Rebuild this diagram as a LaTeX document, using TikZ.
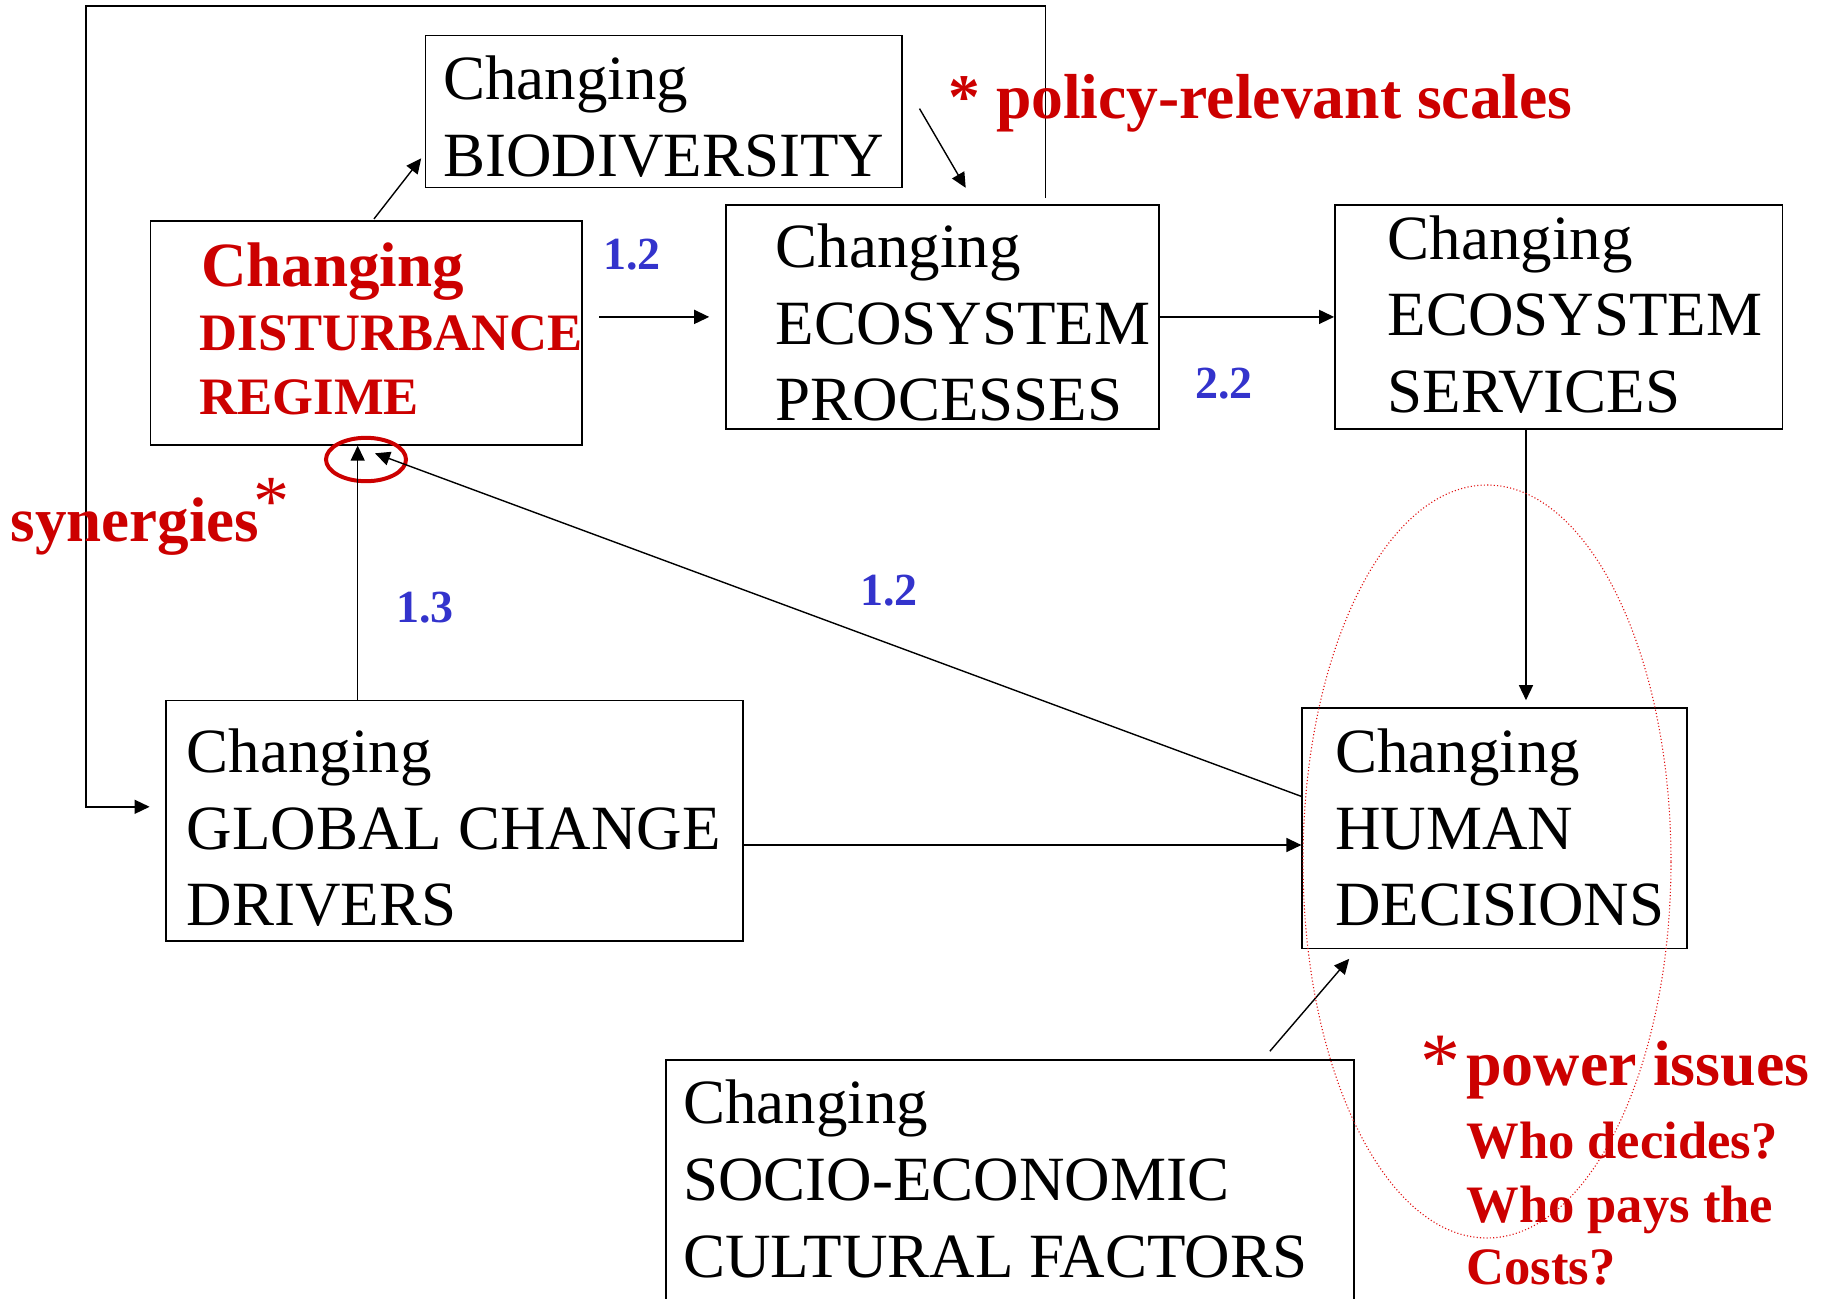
\documentclass[tikz,border=0pt]{standalone}
\usepackage{fontspec}
\setmainfont{Liberation Serif}
\usetikzlibrary{arrows.meta,calc,shapes.geometric}
\definecolor{dred}{HTML}{CC0000}
\definecolor{dblue}{HTML}{3333CC}
\definecolor{dotred}{HTML}{E01010}
\begin{document}
\begin{tikzpicture}[x=0.5pt,y=-0.5pt,
  box/.style={draw, line width=0.8pt, rectangle, inner sep=0pt},
  txt/.style={anchor=base west, inner sep=0pt, font=\fontsize{31.5}{38}\selectfont},
  rtxt/.style={anchor=base west, inner sep=0pt, text=dred, font=\fontsize{31.5}{38}\selectfont\bfseries},
  rsmall/.style={anchor=base west, inner sep=0pt, text=dred, font=\fontsize{26.3}{32}\selectfont\bfseries},
  num/.style={anchor=base west, inner sep=0pt, text=dblue, font=\fontsize{23}{28}\selectfont\bfseries},
  star/.style={anchor=base, inner sep=0pt, text=dred},
  arr/.style={line width=0.7pt, -{Triangle[length=7.5pt,width=7pt]}}]
\useasboundingbox (0,0) rectangle (1828,1298);
\clip (0,0) rectangle (1828,1298);

% boxes
\node[box, minimum width=238.25pt, minimum height=75.9pt] (bio) at (663.75,111.5) {};
\node[box, minimum width=215.65pt, minimum height=111.9pt] (dist) at (366.05,332.9) {};
\node[box, minimum width=216.55pt, minimum height=112.1pt] (proc) at (942.25,316.9) {};
\node[box, minimum width=223.8pt, minimum height=112.1pt] (serv) at (1558.7,316.9) {};
\node[box, minimum width=288.5pt, minimum height=120.2pt] (glob) at (454.5,820.8) {};
\node[box, minimum width=192.4pt, minimum height=120.25pt] (hum) at (1494.6,828.25) {};
\node[box, minimum width=344.15pt, minimum height=170pt] (socio) at (1009.85,1230) {};

% red circle
\node[ellipse, draw=dred, line width=2pt, minimum width=40pt, minimum height=21.7pt, inner sep=0pt] (syn) at (366,459.5) {};

% connectors
\draw[arr] ($(dist.north west)+(224.4,-1.3)$) -- ($(bio.south west)+(-3.5,-29.9)$);
\draw[arr] ($(bio.east)+(16.7,-2.9)$) -- ($(proc.north west)+(240.8,-16.2)$);
\draw[arr] ($(dist.east |- proc.west)+(16.9,0)$) -- ($(proc.west)+(-15.7,0)$);
\draw[arr] (proc.east) -- (serv.west);
\coordinate (sv) at ($(serv.south)+(-32.7,0)$);
\draw[arr, shorten >=3.5pt] (sv) -- (sv |- hum.north);
\coordinate (g1) at ($(glob.east)+(0,24.2)$);
\draw[arr] (g1) -- (g1 -| hum.west);
\coordinate (g2) at ($(glob.north west)+(192.5,0)$);
\draw[arr] (g2) -- (g2 |- dist.south);
\draw[arr] ($(hum.west)+(0,-31.85)$) -- ($(syn.center)+(9,-6.2)$);
\draw[arr] ($(socio.north west)+(605,-8)$) -- ($(hum.south west)+(47.8,9.5)$);
\coordinate (f0) at ($(proc.north west)+(320.6,-5.8)$);
\coordinate (fc) at (86,5.8);
\coordinate (f3) at ($(glob.west)+(-15.6,-14)$);
\draw[arr] (f0) |- (fc) |- (f3);

% box texts
\node[txt] (bio1) at (443,99.5) {Changing};
\node[txt] (bio2) at (443,176) {BIODIVERSITY};
\node[rtxt] (dist1) at (201,286) {Changing};
\node[rsmall] (dist2) at (199.4,350) {DISTURBANCE};
\node[rsmall] (dist3) at (199.4,414.5) {REGIME};
\node[txt] (proc1) at (775.3,267) {Changing};
\node[txt] (proc2) at (775.3,344) {ECOSYSTEM};
\node[txt] (proc3) at (775.3,420.7) {PROCESSES};
\node[txt] (serv1) at (1387.3,259) {Changing};
\node[txt] (serv2) at (1387.3,335.7) {ECOSYSTEM};
\node[txt] (serv3) at (1387.3,412.4) {SERVICES};
\node[txt] (glob1) at (186.5,772.4) {Changing};
\node[txt] (glob2) at (186.5,849) {GLOBAL CHANGE};
\node[txt] (glob3) at (186.5,925) {DRIVERS};
\node[txt] (hum1) at (1334.9,772.4) {Changing};
\node[txt] (hum2) at (1334.9,849) {HUMAN};
\node[txt] (hum3) at (1334.9,925) {DECISIONS};
\node[txt] (soc1) at (683,1123) {Changing};
\node[txt] (soc2) at (683,1200) {SOCIO-ECONOMIC};
\node[txt] (soc3) at (683,1277) {CULTURAL FACTORS};

% numbers
\node[num] (n12a) at (603,269) {1.2};
\node[num] (n13) at (396,622) {1.3};
\node[num] (n12b) at (860,605) {1.2};
\node[num] (n22) at (1195,398) {2.2};

% red annotations
\node[rtxt] (syntxt) at (10.5,541) {synergies};
\node[star, font=\fontsize{36}{40}\selectfont] (synstar) at (271,525.5) {*};
\node[rtxt, font=\fontsize{31.8}{38}\selectfont\bfseries] (pol) at (948,118) {* policy-relevant scales};
\node[ellipse, draw=dotred, line width=0.55pt, dash pattern=on 0.55pt off 1.1pt, minimum width=184pt, minimum height=376.5pt, inner sep=0pt] (pw) at (1487,861.5) {};
\node[star, font=\fontsize{40}{44}\selectfont] (pstar) at (1440,1088) {*};
\node[rtxt, font=\fontsize{32}{38}\selectfont\bfseries] (pow) at (1466,1085) {power issues};
\node[rsmall] (who1) at (1466,1158) {Who decides?};
\node[rsmall] (who2) at (1466,1222) {Who pays the};
\node[rsmall] (who3) at (1466,1284) {Costs?};
\end{tikzpicture}
\end{document}
